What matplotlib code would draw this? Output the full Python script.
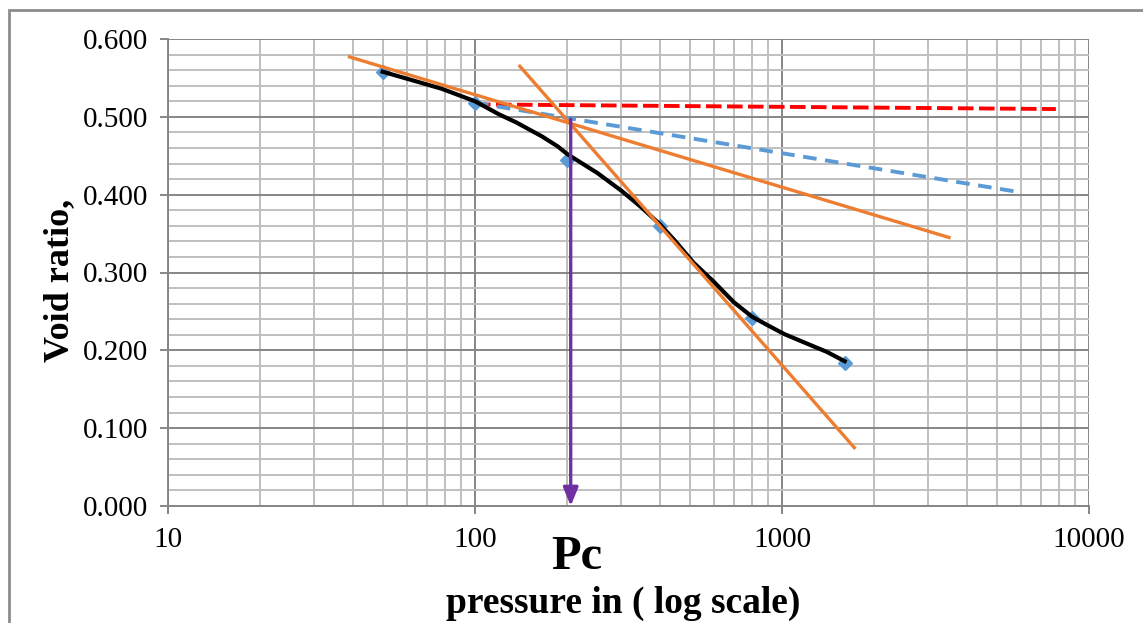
import matplotlib.pyplot as plt
import numpy as np
from matplotlib.patches import Rectangle
from matplotlib.ticker import FixedLocator, LogLocator, NullFormatter, FormatStrFormatter
import matplotlib.transforms as mtransforms

plt.rcParams['font.family'] = ['Liberation Serif', 'DejaVu Serif']

# test points (pressure, void ratio)
pressure = [50, 100, 200, 400, 800, 1600]
void_ratio = [0.558, 0.518, 0.445, 0.360, 0.242, 0.184]

# hand drawn curve through the points
curve_p = [50, 60, 78, 100, 120, 136, 165, 186, 200, 250, 300, 350, 400, 450, 514, 600, 696, 800, 900, 1016, 1200, 1400, 1600]
curve_e = [0.558, 0.549, 0.536, 0.520, 0.503, 0.493, 0.475, 0.462, 0.452, 0.428, 0.405, 0.383, 0.362, 0.340, 0.313,
           0.288, 0.262, 0.243, 0.232, 0.221, 0.209, 0.198, 0.186]

# construction lines
red_p = [100, 7800]
red_e = [0.516, 0.510]
blue_p = [100, 5980]
blue_e = [0.518, 0.403]
tan1_p = [39, 3500]
tan1_e = [0.577, 0.345]
tan2_p = [140, 1720]
tan2_e = [0.565, 0.075]
pc = 205
pc_top = 0.497

fig = plt.figure(figsize=(11.43, 6.23), dpi=100)
ax = fig.add_axes([168 / 1143, 1 - 506 / 623, (1089 - 168) / 1143, (506 - 39) / 623])

# chart area border
fig.patches.append(Rectangle((9 / 1143, -1), 2, 1 + 1 - 10 / 623, transform=fig.transFigure,
                             fill=False, edgecolor='#8c8c8c', linewidth=2, clip_on=False))

ax.set_xscale('log')
ax.set_xlim(10, 10000)
ax.set_ylim(0, 0.6)

ax.xaxis.set_major_locator(FixedLocator([10, 100, 1000, 10000]))
ax.xaxis.set_major_formatter(FormatStrFormatter('%d'))
ax.xaxis.set_minor_locator(LogLocator(base=10, subs=np.arange(2, 10)))
ax.xaxis.set_minor_formatter(NullFormatter())
ax.set_yticks(np.arange(0, 0.61, 0.1))
ax.set_yticks(np.arange(0, 0.61, 0.02), minor=True)
ax.yaxis.set_major_formatter(FormatStrFormatter('%.3f'))

ax.grid(which='minor', color='#bfbfbf', linewidth=1.4)
ax.grid(which='major', color='#868686', linewidth=1.4)
ax.set_axisbelow(True)
for s in ['top', 'right']:
    ax.spines[s].set_visible(False)
for s in ['left', 'bottom']:
    ax.spines[s].set_color('#868686')
    ax.spines[s].set_linewidth(1.4)
ax.tick_params(which='major', length=6, width=1.4, color='#868686', labelsize=21)
ax.tick_params(which='minor', length=0)
ax.tick_params(axis='y', pad=8)
ax.tick_params(axis='x', pad=9)

ax.plot(red_p, red_e, color='#ff0000', linewidth=2.8, dashes=(4, 1.4), zorder=3)
ax.plot(blue_p, blue_e, color='#5b9bd5', linewidth=2.8, dashes=(3.5, 2.2), zorder=3)
ax.plot(pressure, void_ratio, linestyle='none', marker='D', markersize=7, color='#5b9bd5', zorder=4)
ax.plot(curve_p, curve_e, color='black', linewidth=3, zorder=5)
ax.plot(tan1_p, tan1_e, color='#ed7d31', linewidth=2.4, zorder=6)
ax.plot(tan2_p, tan2_e, color='#ed7d31', linewidth=2.4, zorder=6)

ax.annotate('', xy=(pc, 0.0), xytext=(pc, pc_top),
            arrowprops=dict(arrowstyle='-|>,head_length=1.1,head_width=0.45', color='#7030a0',
                            linewidth=2.4, shrinkA=0, shrinkB=0), zorder=7)

trans = mtransforms.blended_transform_factory(ax.transData, ax.transAxes)
ax.text(214, -0.11, 'Pc', transform=trans, ha='center', va='center', fontsize=35, fontweight='bold')

fig.text(60 / 1143, 1 - 280 / 623, 'Void ratio,', rotation=90, ha='center', va='center',
         fontsize=26, fontweight='bold')
fig.text(623 / 1143, 1 - 613 / 623, 'pressure in ( log scale)', ha='center', va='baseline',
         fontsize=27, fontweight='bold')

fig.savefig('out.png', dpi=100)
